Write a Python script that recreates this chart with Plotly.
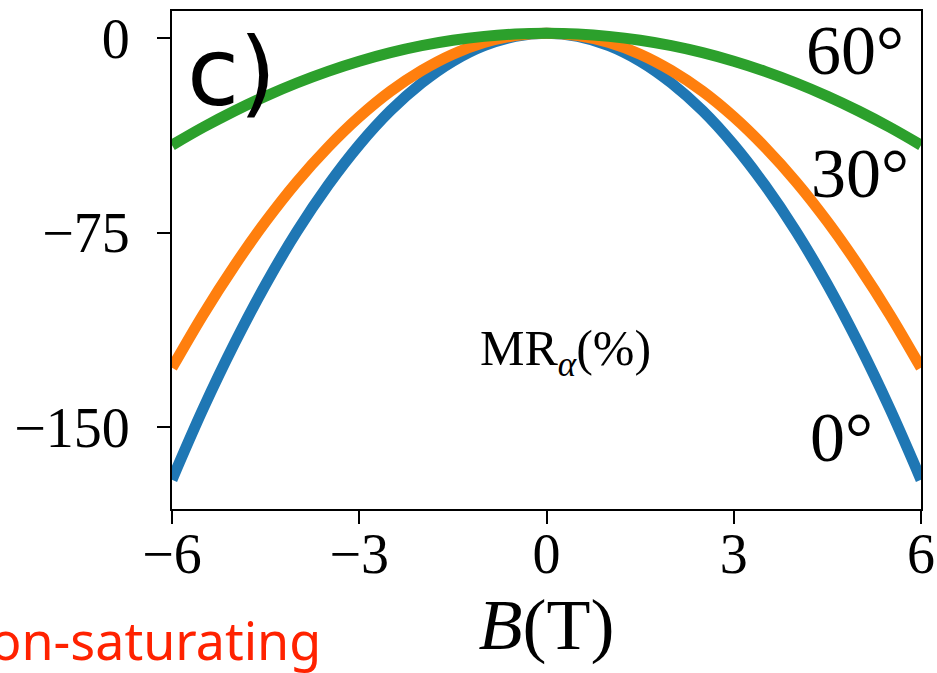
import plotly.graph_objects as go

# Magnetic field (T)
B = [-6.0, -5.5, -5.0, -4.5, -4.0, -3.5, -3.0, -2.5, -2.0, -1.5, -1.0, -0.5, 0.0,
     0.5, 1.0, 1.5, 2.0, 2.5, 3.0, 3.5, 4.0, 4.5, 5.0, 5.5, 6.0]

# Magnetoresistance (%) for field angles 0°, 30°, 60°
mr_0 = [-170.4, -142.9, -117.8, -95.0, -74.6, -56.7, -41.1, -27.9, -17.2, -8.8, -2.8, 0.8, 2.0,
        0.8, -2.8, -8.8, -17.2, -27.9, -41.1, -56.7, -74.6, -95.0, -117.8, -142.9, -170.4]
mr_30 = [-127.2, -106.6, -87.8, -70.7, -55.4, -42.0, -30.3, -20.4, -12.4, -6.1, -1.6, 1.1, 2.0,
         1.1, -1.6, -6.1, -12.4, -20.4, -30.3, -42.0, -55.4, -70.7, -87.8, -106.6, -127.2]
mr_60 = [-41.2, -34.3, -28.0, -22.3, -17.2, -12.7, -8.8, -5.5, -2.8, -0.7, 0.8, 1.7, 2.0,
         1.7, 0.8, -0.7, -2.8, -5.5, -8.8, -12.7, -17.2, -22.3, -28.0, -34.3, -41.2]

x_ticks = [-6, -3, 0, 3, 6]
x_tick_text = ["\u22126", "\u22123", "0", "3", "6"]
y_ticks = [0, -75, -150]
y_tick_text = ["0", "\u221275", "\u2212150"]

angle_labels = ["0°", "30°", "60°"]
colors = ["#1f77b4", "#ff7f0e", "#2ca02c"]

serif = "Liberation Serif"

fig = go.Figure()
for ys, c, name in zip([mr_0, mr_30, mr_60], colors, angle_labels):
    fig.add_trace(go.Scatter(x=B, y=ys, mode="lines", name=name,
                             line=dict(color=c, width=11, shape="spline", smoothing=1.0),
                             showlegend=False))

axis_common = dict(showline=True, linecolor="black", linewidth=2, mirror=True,
                   ticks="outside", ticklen=13, tickwidth=2, tickcolor="black",
                   showgrid=False, zeroline=False, automargin=False,
                   tickfont=dict(family=serif, size=56, color="black"))

fig.update_xaxes(range=[-6, 6], tickvals=x_ticks, ticktext=x_tick_text,
                 ticklabelstandoff=-18,
                 title=dict(text="<i>B</i>(T)", font=dict(family=serif, size=72, color="black"),
                            standoff=0),
                 **axis_common)
fig.update_yaxes(range=[-181.7, 10.6], tickvals=y_ticks, ticktext=y_tick_text,
                 ticklabelstandoff=16,
                 **axis_common)

# Angle labels at the right of each curve
for txt, xv, yv in [("60°", 4.95, -4.6), ("30°", 5.03, -52.2), ("0°", 4.72, -154.0)]:
    fig.add_annotation(x=xv, y=yv, xref="x", yref="y", text=txt, showarrow=False,
                       font=dict(family=serif, size=70, color="black"),
                       xanchor="center", yanchor="middle")

fig.add_annotation(x=0.30, y=-121, xref="x", yref="y",
                   text="MR<sub><i>α</i></sub>(%)", showarrow=False,
                   font=dict(family=serif, size=50, color="black"),
                   xanchor="center", yanchor="middle")

# Panel tag
fig.add_annotation(x=-5.04, y=-12.8, xref="x", yref="y", text="c)", showarrow=False,
                   font=dict(family="DejaVu Sans", size=95, color="black"),
                   xanchor="center", yanchor="middle")

# Regime caption
fig.add_annotation(x=-0.245, y=-0.262, xref="paper", yref="paper",
                   text="on-saturating", showarrow=False,
                   font=dict(family="Noto Sans", size=52, color="#ff2200"),
                   xanchor="left", yanchor="middle")

fig.update_layout(width=937, height=673, margin=dict(l=172, r=16, t=11, b=164),
                  plot_bgcolor="white", paper_bgcolor="white")

fig.write_html("out.html")
